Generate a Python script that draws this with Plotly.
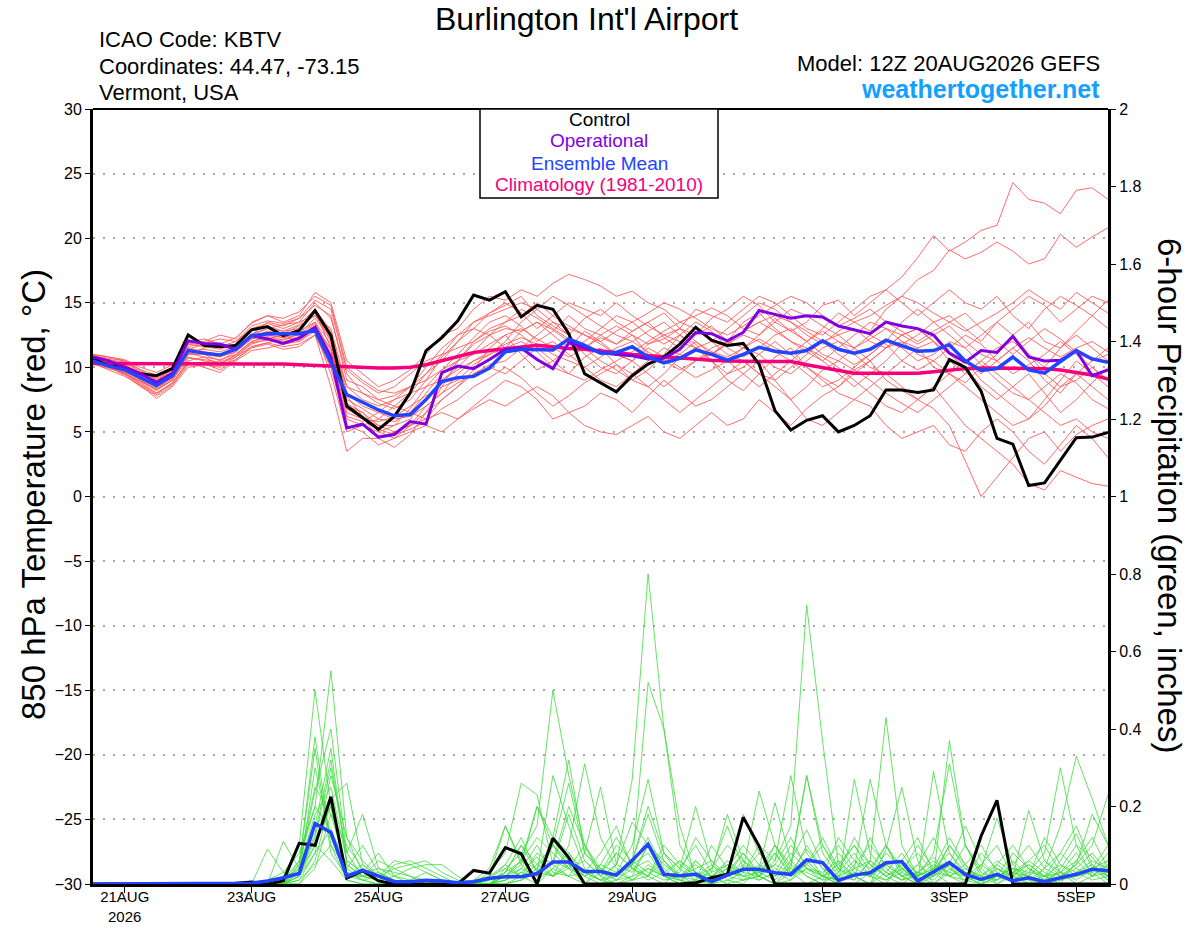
import pandas as pd
import plotly.graph_objects as go

# 6-hourly forecast times, 12Z 20AUG2026 run
times = pd.date_range("2026-08-20 12:00", periods=65, freq="6h")

# 850 hPa temperature (C)
control_t = [10.7, 10.1, 10.0, 9.5, 9.35, 9.9, 12.5, 11.7, 11.6, 11.7, 12.9, 13.15, 12.45,
             12.85, 14.4, 12.45, 7.0, 6.1, 5.2, 6.2, 8.0, 11.3, 12.3, 13.6, 15.6, 15.2,
             15.85, 13.9, 14.8, 14.5, 12.6, 9.5, 8.8, 8.1, 9.35, 10.25, 10.8, 11.8, 13.1,
             12.1, 11.7, 11.85, 10.25, 6.65, 5.15, 5.9, 6.25, 5.0, 5.5, 6.25, 8.25, 8.25,
             8.05, 8.25, 10.6, 10.0, 8.15, 4.5, 4.05, 0.85, 1.05, 2.8, 4.55, 4.6, 4.95]

oper_t = [10.8, 10.5, 10.0, 9.5, 8.85, 9.55, 12.05, 11.85, 11.8, 11.4, 12.45, 12.2, 11.85,
          12.25, 13.1, 10.8, 5.3, 5.6, 4.6, 4.8, 5.8, 5.6, 9.6, 10.1, 9.9, 10.6,
          11.4, 11.5, 10.6, 9.9, 11.9, 11.55, 11.15, 11.0, 10.9, 10.65, 10.7, 11.4, 12.7,
          12.6, 12.05, 12.7, 14.4, 14.1, 13.8, 14.0, 13.9, 13.2, 12.9, 12.6, 13.5, 13.2,
          13.0, 12.5, 11.1, 10.4, 11.3, 11.15, 12.4, 10.8, 10.5, 10.55, 11.3, 9.35, 9.8]

mean_t = [10.5, 10.1, 9.8, 9.2, 8.6, 9.35, 11.3, 11.1, 10.95, 11.4, 12.45, 12.6, 12.6,
          12.6, 12.85, 10.4, 7.9, 7.3, 6.7, 6.25, 6.35, 7.5, 8.9, 9.2, 9.3, 9.95,
          11.2, 11.4, 11.4, 11.35, 12.2, 11.7, 11.1, 11.15, 11.6, 10.8, 10.35, 10.7, 11.35,
          11.0, 10.55, 11.0, 11.55, 11.25, 11.1, 11.3, 12.05, 11.4, 11.1, 11.4, 12.1, 11.7,
          11.25, 11.3, 11.75, 10.5, 9.75, 9.9, 10.8, 9.8, 9.55, 10.45, 11.3, 10.65, 10.4]

clim_t = [10.3, 10.3, 10.3, 10.3, 10.3, 10.3, 10.3, 10.3, 10.3, 10.3, 10.3, 10.25, 10.25,
          10.2, 10.15, 10.1, 10.0, 9.95, 9.95, 9.95, 10.0, 10.2, 10.5, 10.8, 11.15, 11.3,
          11.45, 11.55, 11.7, 11.6, 11.45, 11.4, 11.3, 11.15, 11.0, 10.9, 10.8, 10.7, 10.65,
          10.55, 10.5, 10.45, 10.45, 10.45, 10.45, 10.2, 10.0, 9.8, 9.55, 9.55, 9.55, 9.55,
          9.55, 9.65, 9.8, 9.9, 9.95, 9.95, 9.95, 9.9, 9.9, 9.8, 9.6, 9.4, 9.1]

members_t = [
    [10.8, 10.5, 10.3, 9.6, 9.2, 9.9, 11.8, 11.6, 11.4, 11.8, 12.9, 13.2, 12.8,
     13.0, 14.2, 12.0, 7.5, 6.8, 6.0, 5.8, 6.5, 8.0, 9.5, 10.5, 11.8, 12.5,
     13.0, 12.8, 13.5, 12.9, 12.0, 11.5, 12.3, 11.8, 12.5, 11.0, 10.5, 11.0, 12.0,
     11.2, 10.8, 11.5, 12.2, 11.5, 11.0, 12.0, 12.8, 12.0, 11.5, 12.2, 13.0, 12.5,
     11.8, 12.5, 13.2, 12.0, 11.0, 10.5, 11.5, 12.3, 11.5, 10.8, 11.5, 12.0, 11.2],
    [10.6, 10.2, 9.9, 9.0, 8.3, 9.0, 11.0, 11.2, 11.0, 11.5, 12.6, 13.0, 13.3,
     13.5, 15.0, 13.8, 9.5, 8.0, 7.2, 6.8, 7.5, 9.0, 10.8, 12.0, 13.5, 14.2,
     14.8, 15.5, 14.0, 13.2, 12.5, 13.8, 14.5, 13.5, 12.8, 13.5, 14.2, 13.0, 12.5,
     13.8, 14.5, 15.5, 14.8, 13.5, 12.8, 13.5, 14.8, 15.2, 14.0, 15.0, 16.0, 17.0,
     18.5, 20.2, 19.0, 19.7, 20.6, 21.0, 24.3, 23.0, 22.7, 21.9, 23.7, 23.9, 23.0],
    [10.4, 10.0, 9.5, 8.8, 8.0, 8.8, 10.5, 10.8, 10.2, 11.0, 12.0, 12.3, 12.0,
     12.2, 13.0, 10.5, 6.0, 5.5, 5.0, 5.5, 6.8, 8.5, 9.8, 11.0, 12.3, 13.5,
     14.0, 13.2, 12.0, 12.8, 14.0, 13.0, 12.5, 11.8, 12.8, 13.5, 12.3, 11.5, 12.5,
     13.2, 12.0, 11.5, 12.5, 13.8, 12.8, 12.0, 13.0, 14.2, 13.5, 12.8, 14.5, 15.5,
     16.8, 17.5, 19.1, 18.4, 18.9, 19.7, 19.0, 18.0, 18.4, 20.3, 19.3, 20.1, 20.8],
    [10.9, 10.7, 10.5, 9.8, 9.4, 10.0, 11.5, 11.0, 10.5, 11.2, 12.2, 12.5, 12.3,
     12.8, 13.5, 11.0, 6.5, 6.0, 5.8, 6.2, 7.0, 7.8, 8.5, 9.0, 10.2, 11.0,
     11.5, 12.0, 11.2, 10.0, 9.5, 10.8, 11.5, 10.2, 9.0, 9.8, 11.0, 12.5, 11.8,
     10.5, 9.0, 8.2, 9.5, 10.8, 11.5, 10.0, 9.2, 8.5, 9.8, 10.5, 9.0, 8.2,
     7.5, 6.8, 5.5, 2.8, 0.0, 1.5, 3.0, 4.5, 5.0, 3.5, 4.8, 5.5, 6.0],
    [10.5, 10.0, 9.4, 8.5, 7.8, 8.6, 10.2, 10.3, 9.8, 10.6, 11.5, 11.8, 11.4,
     11.6, 12.5, 8.5, 3.5, 4.5, 4.5, 5.0, 5.5, 6.0, 6.5, 6.0, 6.8, 7.5,
     7.0, 7.8, 8.5, 7.8, 6.5, 5.5, 5.0, 4.8, 5.5, 6.2, 5.0, 4.5, 5.5,
     6.5, 5.5, 6.0, 7.5, 6.5, 5.5, 6.8, 7.8, 8.5, 9.5, 10.5, 11.5, 12.0,
     11.5, 10.0, 9.5, 8.8, 10.0, 11.0, 12.5, 13.5, 12.0, 11.5, 12.8, 14.0, 15.2],
    [11.0, 10.8, 10.5, 9.8, 9.0, 9.8, 11.8, 12.0, 12.5, 12.2, 13.5, 14.0, 13.5,
     14.0, 15.8, 15.0, 10.5, 9.5, 8.5, 9.0, 9.8, 11.0, 12.5, 13.0, 14.5, 15.5,
     15.2, 16.0, 15.5, 16.5, 17.2, 16.8, 16.3, 15.5, 15.9, 15.0, 14.5, 13.5, 14.0,
     14.6, 14.0, 13.0, 12.5, 13.5, 14.5, 14.0, 13.2, 12.5, 13.0, 12.0, 11.5, 12.5,
     13.0, 12.0, 11.0, 10.5, 9.5, 10.5, 11.5, 10.5, 9.0, 8.0, 9.5, 10.5, 11.0],
    [10.7, 10.4, 10.0, 9.4, 8.8, 9.4, 11.2, 11.4, 11.2, 11.6, 12.5, 13.0, 12.8,
     13.3, 14.5, 12.8, 8.0, 7.0, 6.5, 6.0, 6.2, 7.0, 8.0, 9.5, 10.5, 11.0,
     12.0, 13.5, 14.5, 15.5, 14.8, 14.0, 13.2, 12.5, 12.0, 12.8, 13.5, 12.5, 11.5,
     12.0, 13.0, 14.0, 15.0, 14.5, 13.5, 12.8, 12.0, 11.0, 10.2, 11.0, 12.0, 11.5,
     10.5, 11.0, 12.0, 11.5, 10.2, 9.0, 8.0, 7.5, 8.5, 9.5, 8.8, 7.5, 6.8],
    [10.3, 9.9, 9.6, 8.9, 8.2, 9.0, 10.8, 10.5, 10.3, 10.8, 11.8, 12.2, 12.5,
     12.0, 12.8, 9.5, 5.0, 5.5, 6.0, 7.0, 8.0, 9.5, 11.0, 12.5, 13.0, 12.5,
     11.5, 12.8, 13.5, 12.5, 11.5, 12.0, 13.0, 14.0, 13.5, 12.5, 11.8, 12.5, 13.5,
     12.8, 11.5, 10.8, 11.5, 12.5, 13.0, 12.0, 11.0, 10.5, 11.5, 12.5, 11.8, 10.5,
     9.8, 10.5, 11.5, 12.5, 11.8, 10.5, 9.5, 10.2, 11.0, 12.0, 11.0, 10.0, 9.0],
    [10.6, 10.3, 10.1, 9.2, 8.5, 9.2, 11.0, 11.5, 11.8, 11.5, 12.5, 13.5, 13.2,
     13.8, 14.8, 14.0, 9.0, 8.5, 7.5, 7.0, 6.5, 6.0, 7.5, 8.5, 9.8, 11.5,
     12.5, 11.0, 9.8, 10.5, 11.5, 12.8, 12.0, 11.0, 10.5, 11.8, 12.5, 13.0, 12.0,
     11.0, 12.0, 13.5, 14.2, 13.0, 12.0, 11.5, 10.5, 9.5, 8.5, 9.5, 10.5, 11.8,
     12.5, 13.5, 14.0, 13.0, 12.0, 13.5, 14.5, 15.5, 14.8, 13.5, 14.5, 15.5, 15.0],
    [10.4, 10.1, 9.6, 8.7, 8.0, 8.7, 10.4, 10.0, 9.6, 10.5, 11.3, 11.5, 11.8,
     12.0, 13.0, 11.5, 7.0, 6.5, 5.0, 4.5, 5.0, 5.5, 5.0, 6.0, 7.0, 8.0,
     9.0, 8.5, 7.5, 6.0, 6.5, 7.0, 8.0, 7.5, 6.5, 7.8, 9.0, 8.0, 7.0,
     7.5, 8.5, 9.5, 10.5, 9.0, 7.5, 6.0, 5.5, 6.5, 7.5, 7.0, 5.5, 4.5,
     5.0, 5.5, 4.0, 3.5, 5.0, 6.0, 5.0, 3.5, 2.5, 4.0, 5.5, 4.5, 3.0],
    [10.9, 10.6, 10.2, 9.5, 8.8, 9.5, 11.4, 11.8, 11.6, 12.0, 13.0, 13.4, 13.0,
     13.5, 14.0, 13.0, 8.5, 7.5, 7.0, 7.5, 8.5, 10.0, 11.5, 12.5, 13.5, 14.0,
     14.5, 15.0, 14.5, 13.5, 13.0, 12.5, 12.0, 12.8, 13.5, 14.2, 15.0, 14.5, 13.8,
     13.0, 12.5, 13.2, 14.0, 14.8, 15.5, 15.0, 14.0, 13.2, 13.8, 14.5, 13.5, 12.8,
     12.0, 12.8, 13.5, 14.2, 13.0, 12.0, 11.0, 12.0, 13.0, 12.2, 11.2, 10.5, 11.5],
    [10.5, 10.0, 9.7, 9.0, 8.4, 9.1, 11.0, 11.0, 10.8, 11.2, 12.2, 12.5, 12.3,
     12.5, 13.5, 11.8, 7.2, 6.5, 5.5, 5.0, 5.5, 6.5, 7.5, 8.5, 9.5, 10.2,
     10.5, 11.5, 12.5, 13.5, 12.5, 11.0, 10.0, 9.5, 10.5, 11.5, 10.8, 10.0, 9.2,
     9.8, 10.5, 11.5, 11.0, 10.0, 9.5, 10.5, 11.5, 12.0, 11.0, 10.0, 9.5, 10.5,
     11.5, 12.0, 11.0, 10.0, 8.5, 7.5, 8.5, 9.5, 8.0, 6.5, 7.5, 8.8, 10.0],
    [10.8, 10.4, 10.0, 9.3, 8.6, 9.3, 11.2, 11.2, 11.0, 11.4, 12.3, 12.8, 12.6,
     13.2, 14.0, 12.5, 7.8, 6.2, 4.5, 3.8, 4.8, 6.5, 8.5, 10.5, 12.0, 13.0,
     13.5, 14.0, 15.0, 14.0, 13.2, 12.5, 11.8, 11.0, 10.5, 9.5, 8.5, 9.5, 10.5,
     11.5, 12.0, 12.8, 13.5, 12.8, 12.0, 11.2, 10.5, 11.5, 12.5, 13.5, 13.0, 12.0,
     11.0, 10.5, 9.5, 8.5, 7.5, 6.5, 5.5, 6.0, 7.0, 8.5, 9.5, 8.5, 7.5],
    [10.6, 10.2, 9.8, 9.1, 8.6, 9.2, 11.1, 10.8, 10.6, 11.0, 12.0, 12.4, 12.1,
     12.6, 13.8, 12.2, 8.5, 8.0, 7.5, 7.8, 8.5, 9.0, 9.8, 10.5, 11.0, 11.8,
     12.5, 13.0, 12.2, 11.5, 10.8, 11.5, 12.5, 13.2, 12.5, 11.8, 12.2, 13.0, 14.5,
     14.0, 13.5, 14.5, 15.5, 15.0, 14.0, 13.0, 12.5, 13.5, 14.5, 15.5, 16.0, 15.0,
     14.0, 15.0, 16.0, 15.0, 14.5, 15.5, 14.0, 13.0, 14.5, 15.5, 14.8, 14.0, 13.0],
    [10.7, 10.3, 9.9, 9.4, 8.9, 9.6, 11.5, 11.2, 10.9, 11.3, 12.4, 12.7, 12.4,
     12.9, 14.3, 11.5, 6.8, 6.0, 5.5, 5.5, 6.0, 7.5, 9.0, 10.0, 11.2, 12.5,
     13.5, 14.5, 13.8, 13.0, 12.2, 11.5, 10.5, 9.8, 9.0, 8.5, 9.5, 10.8, 11.5,
     10.5, 9.5, 10.0, 11.0, 12.0, 11.0, 10.0, 9.0, 8.0, 7.5, 8.5, 9.5, 8.5,
     7.5, 8.5, 9.5, 10.5, 9.0, 8.0, 7.0, 6.0, 7.5, 9.0, 10.5, 9.5, 8.5],
    [10.3, 9.8, 9.3, 8.6, 7.6, 8.5, 10.0, 10.2, 10.0, 10.8, 11.6, 11.9, 11.6,
     11.8, 12.5, 10.0, 5.5, 5.0, 4.0, 4.5, 5.5, 7.0, 8.0, 8.8, 9.5, 10.0,
     9.5, 10.5, 11.5, 12.0, 11.0, 10.0, 9.0, 8.5, 9.5, 10.5, 11.5, 11.0, 10.5,
     11.0, 11.8, 12.5, 12.0, 11.2, 10.5, 9.5, 8.5, 9.0, 10.0, 11.0, 12.0, 13.5,
     14.5, 13.5, 12.5, 11.5, 12.5, 13.5, 12.5, 11.0, 10.0, 11.5, 12.5, 11.5, 10.5],
    [10.8, 10.6, 10.4, 9.7, 9.1, 9.8, 11.6, 11.9, 12.2, 12.0, 13.2, 13.6, 13.4,
     13.8, 15.2, 14.5, 9.8, 8.8, 8.0, 8.5, 9.5, 10.5, 11.0, 11.5, 12.0, 12.8,
     13.2, 12.5, 11.5, 10.5, 9.5, 9.0, 9.8, 10.5, 11.2, 12.0, 12.8, 13.5, 13.0,
     12.0, 11.0, 10.5, 9.5, 9.0, 10.0, 11.0, 12.0, 12.5, 11.5, 10.5, 11.5, 12.5,
     13.0, 12.0, 10.5, 9.5, 10.5, 11.5, 12.0, 11.0, 9.5, 8.5, 9.0, 10.0, 9.0],
    [10.5, 10.1, 9.5, 8.9, 8.3, 9.0, 10.7, 10.6, 10.4, 10.9, 11.9, 12.1, 11.9,
     12.4, 13.2, 10.8, 6.2, 5.8, 6.5, 7.5, 8.0, 8.5, 9.0, 9.8, 10.5, 11.2,
     11.8, 12.3, 11.8, 11.0, 10.5, 10.0, 10.8, 11.5, 12.0, 11.2, 10.5, 9.8, 10.5,
     11.2, 10.5, 9.5, 8.5, 9.5, 10.5, 11.5, 10.8, 10.0, 9.0, 8.0, 7.0, 6.5,
     7.5, 8.5, 7.0, 5.5, 4.5, 3.5, 2.5, 1.0, 0.5, 2.0, 1.5, 1.0, 0.8],
    [11.0, 10.8, 10.6, 10.0, 9.6, 10.2, 11.9, 12.2, 11.8, 12.3, 13.4, 14.0, 13.8,
     14.3, 15.5, 14.8, 10.0, 9.0, 8.2, 8.0, 8.5, 9.5, 10.5, 12.0, 13.0, 14.2,
     15.0, 14.2, 13.0, 14.0, 15.0, 14.5, 14.0, 15.0, 14.0, 13.2, 12.5, 12.0, 11.5,
     11.0, 11.8, 12.8, 13.5, 14.0, 13.5, 12.5, 11.8, 12.8, 13.5, 14.0, 14.8, 15.5,
     15.0, 14.2, 13.5, 12.8, 13.5, 14.2, 15.0, 16.0, 15.2, 14.5, 15.8, 15.0, 14.2],
    [10.4, 10.0, 9.5, 8.6, 7.9, 8.8, 10.3, 10.4, 10.1, 10.6, 11.6, 11.9, 12.2,
     12.3, 13.4, 11.3, 6.8, 6.2, 5.2, 4.8, 5.2, 5.8, 6.8, 7.5, 8.5, 9.2,
     10.0, 9.2, 8.0, 7.0, 7.8, 8.8, 9.5, 10.2, 9.5, 8.5, 7.5, 6.5, 7.5,
     8.5, 9.5, 10.5, 9.5, 8.5, 7.5, 8.5, 9.8, 10.5, 9.8, 9.0, 8.0, 7.2,
     6.5, 7.5, 8.5, 9.5, 10.5, 9.5, 8.5, 7.5, 6.5, 5.5, 6.0, 5.0, 4.5],
]

# 6-hour precipitation (inches)
control_p = [0, 0, 0, 0, 0, 0, 0, 0, 0, 0.002, 0.005, 0, 0.008,
             0.105, 0.10, 0.225, 0.015, 0.034, 0.008, 0, 0, 0, 0, 0, 0.035, 0.028,
             0.094, 0.078, 0, 0.118, 0.068, 0, 0, 0, 0, 0, 0, 0, 0.003,
             0.016, 0.025, 0.172, 0.098, 0, 0, 0, 0, 0, 0, 0, 0, 0,
             0, 0, 0, 0, 0.124, 0.216, 0, 0, 0, 0, 0, 0, 0]

mean_p = [0, 0, 0, 0, 0, 0, 0, 0, 0, 0, 0.002, 0.008, 0.016,
          0.027, 0.156, 0.133, 0.02, 0.035, 0.02, 0.006, 0.006, 0.01, 0.008, 0.003, 0.006, 0.015,
          0.019, 0.019, 0.027, 0.057, 0.057, 0.032, 0.032, 0.023, 0.061, 0.103, 0.025, 0.021, 0.025,
          0.006, 0.023, 0.038, 0.038, 0.029, 0.025, 0.062, 0.055, 0.009, 0.023, 0.029, 0.055, 0.058,
          0.008, 0.031, 0.055, 0.025, 0.012, 0.025, 0.008, 0.016, 0.006, 0.016, 0.025, 0.038, 0.034]

members_p = [
    [0, 0, 0, 0, 0, 0, 0, 0, 0, 0, 0, 0.01, 0.03,
     0.08, 0.2, 0.55, 0.12, 0.03, 0.01, 0, 0, 0, 0, 0, 0, 0.02,
     0.05, 0.02, 0, 0.04, 0.08, 0.02, 0, 0.01, 0.05, 0.12, 0.04, 0, 0,
     0, 0.03, 0.08, 0.02, 0, 0.01, 0.06, 0.02, 0, 0, 0.03, 0.1, 0.04,
     0, 0.02, 0.05, 0, 0, 0.02, 0.04, 0, 0, 0.01, 0.03, 0.05, 0.02],
    [0, 0, 0, 0, 0, 0, 0, 0, 0, 0, 0, 0, 0.02,
     0.1, 0.5, 0.2, 0.03, 0.02, 0.06, 0.04, 0.02, 0, 0, 0, 0.01, 0.04,
     0.15, 0.06, 0.02, 0.1, 0.05, 0, 0, 0.03, 0.1, 0.27, 0.08, 0.02, 0,
     0.04, 0.1, 0.06, 0.02, 0, 0.05, 0.28, 0.1, 0.03, 0.08, 0.02, 0, 0.06,
     0.12, 0.03, 0, 0, 0.05, 0.1, 0.02, 0, 0.04, 0.08, 0.15, 0.05, 0.01],
    [0, 0, 0, 0, 0, 0, 0, 0, 0, 0, 0, 0, 0,
     0.05, 0.38, 0.1, 0.01, 0, 0, 0, 0.01, 0.03, 0.01, 0, 0, 0.02,
     0.04, 0.08, 0.15, 0.5, 0.28, 0.1, 0.02, 0, 0.01, 0.05, 0.02, 0, 0.06,
     0.02, 0, 0.01, 0.04, 0.1, 0.05, 0.02, 0, 0.06, 0.02, 0, 0.09, 0.25,
     0.06, 0, 0.03, 0.1, 0.04, 0, 0.02, 0.06, 0.1, 0.03, 0, 0.02, 0.06],
    [0, 0, 0, 0, 0, 0, 0, 0, 0, 0, 0, 0, 0.01,
     0.04, 0.15, 0.35, 0.05, 0.02, 0.01, 0, 0, 0, 0, 0, 0, 0,
     0.03, 0.1, 0.05, 0.02, 0.04, 0.06, 0.02, 0.05, 0.27, 0.8, 0.4, 0.15, 0.02,
     0, 0.01, 0.03, 0.02, 0.08, 0.03, 0, 0.02, 0.05, 0.1, 0.03, 0.01, 0.04,
     0.02, 0.08, 0.31, 0.1, 0.02, 0, 0.03, 0.05, 0.02, 0, 0.06, 0.12, 0.04],
    [0, 0, 0, 0, 0, 0, 0, 0, 0, 0, 0, 0, 0,
     0.06, 0.25, 0.18, 0.04, 0.1, 0.03, 0.01, 0, 0, 0, 0, 0, 0.01,
     0.02, 0.06, 0.2, 0.1, 0.04, 0, 0.03, 0.08, 0.04, 0.02, 0.06, 0.01, 0,
     0.02, 0.05, 0.03, 0.1, 0.06, 0.15, 0.72, 0.37, 0.05, 0.02, 0, 0.03, 0.08,
     0.02, 0, 0.04, 0.02, 0, 0.05, 0.1, 0.04, 0.01, 0.03, 0.08, 0.03, 0],
    [0, 0, 0, 0, 0, 0, 0, 0, 0, 0, 0, 0.09, 0.03,
     0.02, 0.12, 0.3, 0.08, 0.18, 0.04, 0.02, 0.01, 0, 0, 0, 0, 0,
     0.01, 0.03, 0.07, 0.02, 0.1, 0.31, 0.12, 0.04, 0.01, 0.02, 0.08, 0.04, 0.2,
     0.05, 0.01, 0, 0.04, 0.21, 0.06, 0.02, 0, 0.03, 0.12, 0.05, 0.02, 0,
     0.03, 0.07, 0.02, 0, 0.04, 0.17, 0.05, 0.01, 0, 0.02, 0.05, 0.1, 0.23],
    [0, 0, 0, 0, 0, 0, 0, 0, 0, 0, 0, 0, 0.11,
     0.04, 0.18, 0.25, 0.06, 0.03, 0.08, 0.02, 0, 0, 0.01, 0, 0, 0.03,
     0.08, 0.26, 0.23, 0.05, 0.02, 0, 0.05, 0.12, 0.05, 0.02, 0, 0.04, 0.1,
     0.03, 0.18, 0.06, 0.02, 0, 0.03, 0.09, 0.04, 0, 0.27, 0.08, 0.03, 0.01,
     0.05, 0.12, 0.04, 0.01, 0, 0.04, 0.02, 0.19, 0.06, 0.02, 0.04, 0.08, 0.03],
    [0, 0, 0, 0, 0, 0, 0, 0, 0, 0, 0, 0, 0,
     0.02, 0.3, 0.12, 0.02, 0.05, 0.02, 0.06, 0.05, 0.03, 0.01, 0, 0, 0,
     0.02, 0.05, 0.2, 0.12, 0.32, 0.08, 0.25, 0.05, 0.03, 0.1, 0.05, 0.02, 0.06,
     0.02, 0, 0.04, 0.24, 0.1, 0.03, 0.05, 0.02, 0, 0.04, 0.27, 0.1, 0.02,
     0, 0.03, 0.1, 0.05, 0, 0.02, 0.04, 0.03, 0.08, 0.3, 0.1, 0.02, 0.05],
    [0, 0, 0, 0, 0, 0, 0, 0, 0, 0, 0, 0, 0,
     0.03, 0.15, 0.2, 0.02, 0.02, 0.01, 0.05, 0.06, 0.04, 0.02, 0, 0, 0.01,
     0.03, 0.1, 0.03, 0.28, 0.15, 0.04, 0.01, 0.03, 0.05, 0.52, 0.4, 0.1, 0.03,
     0.01, 0.02, 0.05, 0.02, 0.1, 0.04, 0.28, 0.08, 0.02, 0.01, 0.06, 0.43, 0.1,
     0.02, 0.04, 0.08, 0.02, 0, 0.01, 0.05, 0.1, 0.04, 0.15, 0.33, 0.22, 0.1],
    [0, 0, 0, 0, 0, 0, 0, 0, 0, 0, 0, 0, 0,
     0.01, 0.05, 0.1, 0.04, 0.01, 0, 0, 0, 0, 0, 0, 0, 0,
     0, 0.01, 0.04, 0.02, 0.06, 0.03, 0.01, 0, 0.02, 0.04, 0.02, 0, 0.01,
     0.03, 0.05, 0.02, 0.01, 0.03, 0.02, 0.05, 0.1, 0.04, 0.02, 0, 0.05, 0.06,
     0.03, 0.01, 0.05, 0.15, 0.06, 0.02, 0.01, 0.03, 0.02, 0.05, 0.02, 0.03, 0.08],
    [0, 0, 0, 0, 0, 0, 0, 0, 0, 0, 0, 0, 0,
     0.02, 0.1, 0.2, 0.03, 0.01, 0.02, 0.01, 0, 0, 0, 0, 0, 0,
     0.04, 0.02, 0.08, 0.05, 0.18, 0.06, 0.02, 0.08, 0.04, 0.06, 0.02, 0.03, 0.12,
     0.06, 0.02, 0.18, 0.08, 0.03, 0.01, 0.04, 0.02, 0.12, 0.06, 0.04, 0.1, 0.03,
     0.01, 0.29, 0.08, 0.03, 0.02, 0.01, 0.06, 0.02, 0, 0.04, 0.1, 0.07, 0.02],
    [0, 0, 0, 0, 0, 0, 0, 0, 0, 0, 0, 0, 0,
     0, 0.04, 0.18, 0.1, 0.04, 0.02, 0, 0, 0, 0, 0, 0, 0,
     0.01, 0.03, 0.02, 0.06, 0.2, 0.1, 0.04, 0.01, 0.02, 0.1, 0.06, 0.02, 0.01,
     0.1, 0.04, 0.01, 0.02, 0.06, 0.28, 0.08, 0.02, 0.01, 0.05, 0.1, 0.05, 0.02,
     0.05, 0.02, 0.37, 0.1, 0.03, 0.01, 0.03, 0.02, 0.06, 0.03, 0.01, 0.04, 0.1],
    [0, 0.003, 0, 0, 0, 0, 0, 0, 0, 0, 0, 0, 0.01,
     0.06, 0.2, 0.14, 0.02, 0.01, 0, 0, 0, 0, 0, 0, 0.01, 0.02,
     0.15, 0.05, 0.01, 0.04, 0.02, 0.03, 0.01, 0.05, 0.16, 0.1, 0.03, 0.01, 0,
     0.01, 0.04, 0.1, 0.05, 0.02, 0.04, 0.03, 0.01, 0.08, 0.03, 0.02, 0.01, 0.03,
     0.1, 0.04, 0.02, 0.01, 0.08, 0.04, 0.01, 0.02, 0.12, 0.05, 0.03, 0.01, 0.02],
    [0, 0, 0, 0, 0, 0, 0, 0, 0, 0, 0, 0, 0,
     0.01, 0.08, 0.28, 0.12, 0.06, 0.02, 0.04, 0.05, 0.06, 0.03, 0.01, 0, 0,
     0.02, 0.06, 0.12, 0.08, 0.04, 0.1, 0.03, 0.01, 0.04, 0.02, 0.1, 0.05, 0.02,
     0.04, 0.15, 0.04, 0.01, 0.03, 0.1, 0.05, 0.12, 0.04, 0.01, 0.06, 0.03, 0.01,
     0.03, 0.06, 0.02, 0.05, 0.1, 0.03, 0.01, 0.04, 0.01, 0.06, 0.13, 0.04, 0.01],
    [0, 0, 0, 0, 0, 0, 0, 0, 0, 0, 0, 0, 0,
     0.04, 0.24, 0.4, 0.08, 0.02, 0.01, 0.02, 0.04, 0.05, 0.05, 0.02, 0, 0,
     0, 0.02, 0.05, 0.1, 0.26, 0.08, 0.03, 0.1, 0.06, 0.2, 0.08, 0.04, 0.01,
     0, 0.02, 0.06, 0.03, 0.08, 0.02, 0.1, 0.04, 0.02, 0.06, 0.02, 0.08, 0.04,
     0.01, 0.02, 0.1, 0.04, 0.02, 0.05, 0.02, 0.01, 0.04, 0.02, 0.05, 0.18, 0.1],
    [0, 0, 0, 0, 0, 0, 0, 0, 0, 0, 0, 0, 0,
     0.02, 0.13, 0.32, 0.06, 0.03, 0.04, 0.03, 0.02, 0.01, 0, 0, 0, 0.01,
     0.05, 0.12, 0.03, 0.02, 0.05, 0.03, 0.08, 0.15, 0.04, 0.01, 0.03, 0.06, 0.02,
     0.05, 0.02, 0.08, 0.03, 0.01, 0.06, 0.14, 0.05, 0.1, 0.04, 0.02, 0.05, 0.02,
     0, 0.04, 0.06, 0.02, 0.05, 0.02, 0.08, 0.04, 0.02, 0.01, 0.03, 0.06, 0.04],
    [0, 0, 0, 0, 0, 0, 0, 0, 0, 0, 0, 0, 0,
     0, 0.06, 0.22, 0.26, 0.05, 0.02, 0.01, 0, 0, 0, 0, 0, 0,
     0.01, 0.04, 0.1, 0.03, 0.02, 0.08, 0.04, 0.02, 0.06, 0.03, 0.01, 0.02, 0.05,
     0.02, 0.06, 0.03, 0.08, 0.04, 0.02, 0.04, 0.03, 0.06, 0.02, 0.12, 0.04, 0.01,
     0.02, 0.05, 0.03, 0.02, 0.01, 0.04, 0.02, 0.05, 0.02, 0.03, 0.06, 0.02, 0.03],
    [0, 0, 0, 0, 0, 0, 0, 0, 0, 0, 0, 0, 0,
     0.03, 0.1, 0.06, 0.01, 0, 0, 0, 0, 0, 0, 0, 0, 0,
     0, 0.01, 0.03, 0.06, 0.04, 0.02, 0.05, 0.03, 0.01, 0.04, 0.02, 0.06, 0.03,
     0.01, 0.03, 0.02, 0.05, 0.02, 0.08, 0.04, 0.01, 0.02, 0.04, 0.06, 0.02, 0.05,
     0.02, 0.04, 0.12, 0.05, 0.01, 0.02, 0.04, 0.02, 0.01, 0.03, 0.02, 0.04, 0.06],
    [0, 0, 0, 0, 0, 0, 0, 0, 0, 0, 0, 0, 0,
     0.05, 0.35, 0.08, 0.02, 0.04, 0.01, 0, 0, 0, 0, 0, 0, 0,
     0.02, 0.04, 0.02, 0.12, 0.08, 0.03, 0.01, 0.02, 0.06, 0.18, 0.06, 0.02, 0.04,
     0.06, 0.02, 0.01, 0.02, 0.05, 0.03, 0.06, 0.02, 0.04, 0.1, 0.05, 0.02, 0.04,
     0.08, 0.03, 0.02, 0.04, 0.02, 0.06, 0.03, 0.01, 0.02, 0.08, 0.04, 0.02, 0.05],
    [0, 0, 0, 0, 0, 0, 0, 0, 0, 0, 0, 0, 0,
     0.02, 0.08, 0.14, 0.05, 0.02, 0.03, 0.01, 0, 0, 0, 0, 0, 0,
     0.03, 0.06, 0.04, 0.1, 0.06, 0.02, 0.04, 0.02, 0.05, 0.08, 0.02, 0.01, 0.03,
     0.02, 0.04, 0.02, 0.03, 0.05, 0.12, 0.04, 0.02, 0.01, 0.03, 0.02, 0.06, 0.02,
     0.03, 0.02, 0.05, 0.03, 0.01, 0.02, 0.03, 0.06, 0.03, 0.01, 0.02, 0.04, 0.02],
]

tick_days = ["2026-08-21", "2026-08-23", "2026-08-25", "2026-08-27",
             "2026-08-29", "2026-09-01", "2026-09-03", "2026-09-05"]
tick_text = ["21AUG<br>2026", "23AUG", "25AUG", "27AUG",
             "29AUG", "1SEP", "3SEP", "5SEP"]

FONT = "Liberation Sans, Arial, sans-serif"
RED = "#ff5a5a"
GREEN = "#3ddc3d"
BLACK = "#000000"
PURPLE = "#8000e0"
BLUE = "#2244ff"
PINK = "#f5007a"

# plot area in pixels (for placing the page text)
L, R, T, B = 93, 1108, 109, 884


def fx(px):
    return (px - L) / (R - L)


def fy(py):
    return (B - py) / (B - T)


fig = go.Figure()

for m in members_t:
    fig.add_trace(go.Scatter(x=times[:len(m)], y=m, mode="lines",
                             line=dict(color=RED, width=0.9), hoverinfo="skip"))

fig.add_trace(go.Scatter(x=times, y=clim_t, mode="lines",
                         line=dict(color=PINK, width=3.5), hoverinfo="skip"))
fig.add_trace(go.Scatter(x=times, y=control_t, mode="lines",
                         line=dict(color=BLACK, width=3), hoverinfo="skip"))
fig.add_trace(go.Scatter(x=times, y=oper_t, mode="lines",
                         line=dict(color=PURPLE, width=3), hoverinfo="skip"))
fig.add_trace(go.Scatter(x=times, y=mean_t, mode="lines",
                         line=dict(color=BLUE, width=3.5), hoverinfo="skip"))

for p in members_p:
    fig.add_trace(go.Scatter(x=times[:len(p)], y=p, mode="lines", yaxis="y2",
                             line=dict(color=GREEN, width=0.8), hoverinfo="skip"))

fig.add_trace(go.Scatter(x=times, y=control_p, mode="lines", yaxis="y2",
                         line=dict(color=BLACK, width=3), hoverinfo="skip"))
fig.add_trace(go.Scatter(x=times, y=mean_p, mode="lines", yaxis="y2",
                         line=dict(color=BLUE, width=3.5), hoverinfo="skip"))

fig.update_layout(
    width=1200, height=927,
    margin=dict(l=L, r=1200 - R, t=T, b=927 - B, autoexpand=False),
    paper_bgcolor="white", plot_bgcolor="white",
    showlegend=False,
    font=dict(family=FONT, color="black"),
    xaxis=dict(type="date", range=[times[0], times[-1]], automargin=False,
               tickvals=tick_days, ticktext=tick_text,
               ticks="outside", ticklen=6, tickcolor="black",
               ticklabelstandoff=-9,
               showline=True, linewidth=3, linecolor="black",
               showgrid=False, zeroline=False, tickfont=dict(size=15)),
    yaxis=dict(range=[-30, 30], tick0=-30, dtick=5, automargin=False,
               ticks="outside", ticklen=5, tickcolor="black",
               showline=True, linewidth=3, linecolor="black",
               showgrid=True, gridcolor="#a8a8a8", griddash="2px,8px", gridwidth=1.5,
               zeroline=False, tickfont=dict(size=16)),
    yaxis2=dict(overlaying="y", side="right", range=[0, 2], tick0=0, dtick=0.2,
                automargin=False,
                ticks="outside", ticklen=5, tickcolor="black",
                showline=True, linewidth=3, linecolor="black",
                showgrid=False, zeroline=False, tickfont=dict(size=16)),
)

# thin top frame and the legend box
fig.add_shape(type="line", xref="paper", yref="paper", x0=0, x1=1, y0=1, y1=1,
              line=dict(color="black", width=2))
fig.add_shape(type="rect", xref="paper", yref="paper", layer="above",
              x0=fx(480), x1=fx(718), y0=fy(198), y1=1,
              fillcolor="white", line=dict(color="black", width=1.5))

legend_items = [("Control", BLACK, 120), ("Operational", PURPLE, 141),
                ("Ensemble Mean", BLUE, 163), ("Climatology (1981-2010)", PINK, 185)]
for text, color, ypx in legend_items:
    fig.add_annotation(text=text, xref="paper", yref="paper", x=fx(599), y=fy(ypx),
                       xanchor="center", yanchor="middle", showarrow=False,
                       font=dict(size=19, color=color))

fig.add_annotation(text="Burlington Int'l Airport", xref="paper", yref="paper",
                   x=fx(586), y=fy(19), xanchor="center", yanchor="middle",
                   showarrow=False, font=dict(size=32))
for text, ypx in [("ICAO Code: KBTV", 40), ("Coordinates: 44.47, -73.15", 66),
                  ("Vermont, USA", 93)]:
    fig.add_annotation(text=text, xref="paper", yref="paper", x=fx(97), y=fy(ypx),
                       xanchor="left", yanchor="middle", showarrow=False,
                       font=dict(size=22))
fig.add_annotation(text="Model: 12Z 20AUG2026 GEFS", xref="paper", yref="paper",
                   x=fx(1102), y=fy(63), xanchor="right", yanchor="middle",
                   showarrow=False, font=dict(size=22))
fig.add_annotation(text="<b>weathertogether.net</b>", xref="paper", yref="paper",
                   x=fx(1102), y=fy(89), xanchor="right", yanchor="middle",
                   showarrow=False, font=dict(size=25, color="#14a0ff"))

fig.add_annotation(text="850 hPa Temperature (red, °C)", xref="paper", yref="paper",
                   x=fx(33), y=fy(495), xanchor="center", yanchor="middle",
                   textangle=-90, showarrow=False, font=dict(size=33))
fig.add_annotation(text="6-hour Precipitation (green, inches)", xref="paper", yref="paper",
                   x=fx(1170), y=fy(495), xanchor="center", yanchor="middle",
                   textangle=90, showarrow=False, font=dict(size=33))

# drop the default page margin so the figure sits at the window corner
fig.write_html("out.html", config={"displayModeBar": False},
               post_script="document.body.style.margin='0';")
